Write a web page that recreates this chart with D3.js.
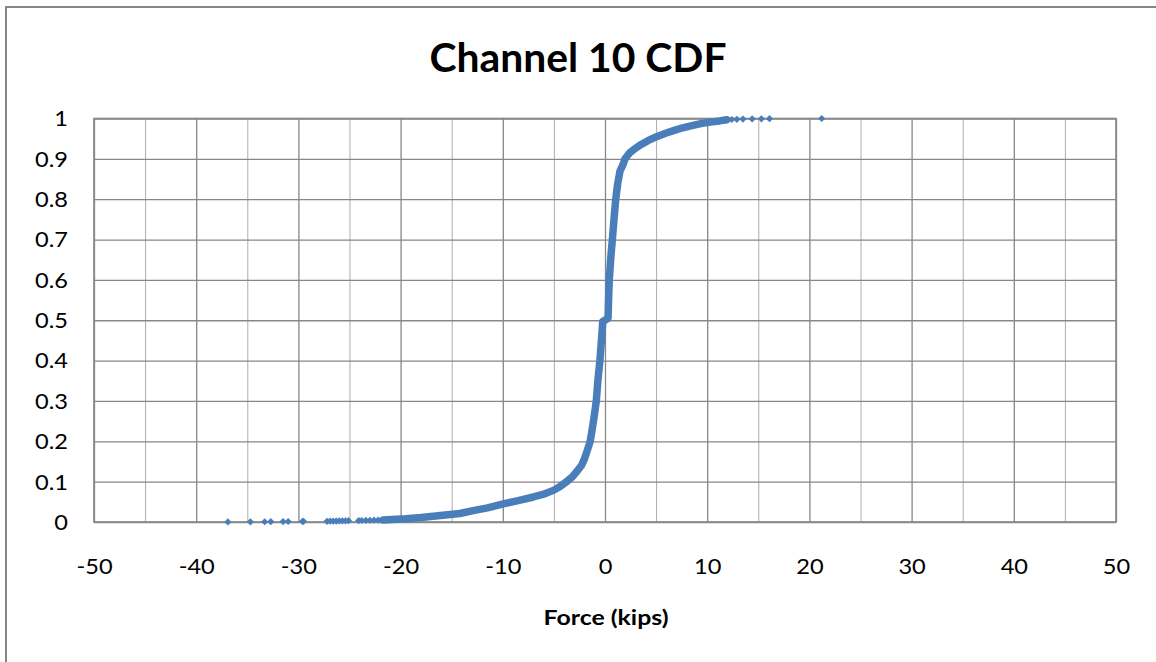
<!DOCTYPE html>
<html>
<head>
<meta charset="utf-8">
<script src="https://cdn.jsdelivr.net/npm/d3@7"></script>
<style>
  html, body { margin: 0; padding: 0; background: #fff; }
  svg { display: block; }
  text { font-family: Lato, "Open Sans", sans-serif; fill: #000; }
</style>
</head>
<body>
<svg id="chart" width="1156" height="662"></svg>
<script>
// ---- data ----
const chartTitle = "Channel 10 CDF";
const xAxisTitle = "Force (kips)";
const xTicks = [-50, -40, -30, -20, -10, 0, 10, 20, 30, 40, 50];
const xMinorTicks = [-45, -35, -25, -15, -5, 5, 15, 25, 35, 45];
const yTicks = [0, 0.1, 0.2, 0.3, 0.4, 0.5, 0.6, 0.7, 0.8, 0.9, 1];
const yTickLabels = ["0", "0.1", "0.2", "0.3", "0.4", "0.5", "0.6", "0.7", "0.8", "0.9", "1"];

// sparse left tail (individual markers)
const leftTailForce = [-36.9, -34.7, -33.3, -32.7, -31.5, -31.0, -29.6, -29.5,
  -27.2, -26.9, -26.6, -26.3, -26.0, -25.7, -25.4, -25.1,
  -24.1, -23.8, -23.4, -23.0, -22.6, -22.2];
const leftTailCdf = [0.0002, 0.0004, 0.0006, 0.0008, 0.001, 0.0012, 0.0014, 0.0016,
  0.0018, 0.002, 0.0022, 0.0024, 0.0026, 0.0028, 0.003, 0.0032,
  0.0035, 0.0037, 0.004, 0.0042, 0.0045, 0.0048];

// dense body of the distribution
const bodyForce = [-21.7, -19.5, -18.0, -16.1, -14.2, -12.9, -11.5, -9.95, -8.5, -7.0,
  -6.0, -5.0, -4.4, -3.75, -3.2, -2.7, -2.3, -2.0, -1.7, -1.45,
  -1.25, -1.07, -0.85, -0.7, -0.5, -0.35, -0.22, 0.3, 0.35, 0.42,
  0.55, 0.72, 0.88, 1.05, 1.25, 1.47, 1.75, 1.96, 2.38, 2.9,
  3.5, 4.2, 5.05, 6.0, 6.7, 7.6, 8.6, 9.5, 10.3, 11.2, 11.9];
const bodyCdf = [0.005, 0.008, 0.011, 0.016, 0.021, 0.028, 0.035, 0.045, 0.053, 0.062,
  0.069, 0.079, 0.088, 0.10, 0.112, 0.127, 0.14, 0.157, 0.18, 0.20,
  0.23, 0.26, 0.30, 0.35, 0.40, 0.45, 0.497, 0.505, 0.55, 0.60,
  0.65, 0.70, 0.75, 0.80, 0.84, 0.87, 0.885, 0.90, 0.914, 0.925,
  0.935, 0.945, 0.955, 0.964, 0.97, 0.977, 0.983, 0.988, 0.991, 0.994, 0.997];

// sparse right tail (individual markers)
const rightTailForce = [12.4, 12.9, 13.5, 14.4, 15.3, 16.1, 21.2];
const rightTailCdf = [0.9975, 0.998, 0.9985, 0.999, 0.9993, 0.9996, 1.0];

// ---- layout ----
const svg = d3.select("#chart");
const plot = { left: 94, right: 1116, top: 118.5, bottom: 522 };
const x = d3.scaleLinear().domain([-50, 50]).range([plot.left, plot.right]);
const y = d3.scaleLinear().domain([0, 1]).range([plot.bottom, plot.top]);
const blue = "#4a7ebb";
const gridMajor = "#878787";
const gridMinor = "#adadad";

// outer chart frame
svg.append("rect")
  .attr("x", 6).attr("y", 7).attr("width", 1200).attr("height", 700)
  .attr("fill", "none").attr("stroke", "#868686").attr("stroke-width", 2);

// title
svg.append("text")
  .attr("x", 578).attr("y", 72)
  .attr("text-anchor", "middle")
  .attr("font-weight", "bold")
  .attr("font-size", 40)
  .attr("textLength", 297).attr("lengthAdjust", "spacingAndGlyphs")
  .text(chartTitle);

// minor vertical gridlines
svg.append("g")
  .attr("transform", `translate(0,${plot.bottom})`)
  .call(d3.axisBottom(x).tickValues(xMinorTicks).tickSize(-(plot.bottom - plot.top)).tickFormat(""))
  .call(g => g.select(".domain").remove())
  .call(g => g.selectAll("line").attr("stroke", gridMinor).attr("stroke-width", 1));

// major vertical gridlines + x labels
const xAxis = svg.append("g")
  .attr("transform", `translate(0,${plot.bottom})`)
  .call(d3.axisBottom(x).tickValues(xTicks).tickSize(-(plot.bottom - plot.top)).tickPadding(0).tickFormat(d => String(d)))
  .call(g => g.select(".domain").remove())
  .call(g => g.selectAll("line").attr("stroke", gridMajor).attr("stroke-width", 1.3));
xAxis.selectAll("text")
  .attr("y", 51.5).attr("dy", null)
  .attr("font-size", 20.5).attr("font-family", "Lato, sans-serif").attr("fill", "#000");

// horizontal gridlines + y labels
const yAxis = svg.append("g")
  .attr("transform", `translate(${plot.left},0)`)
  .call(d3.axisLeft(y).tickValues(yTicks).tickSize(-(plot.right - plot.left)).tickPadding(0)
    .tickFormat((d, i) => yTickLabels[i]))
  .call(g => g.select(".domain").remove())
  .call(g => g.selectAll("line").attr("stroke", gridMajor).attr("stroke-width", 1.3));
yAxis.selectAll("text")
  .attr("x", 68 - plot.left).attr("dy", "0.36em")
  .attr("font-size", 20.5).attr("font-family", "Lato, sans-serif").attr("fill", "#000");

// stretch tick labels horizontally like the reference
svg.selectAll(".tick text").each(function () {
  const w = this.getComputedTextLength();
  d3.select(this).attr("textLength", w * 1.15).attr("lengthAdjust", "spacingAndGlyphs");
});

// plot border
svg.append("rect")
  .attr("x", plot.left).attr("y", plot.top)
  .attr("width", plot.right - plot.left).attr("height", plot.bottom - plot.top)
  .attr("fill", "none").attr("stroke", gridMajor).attr("stroke-width", 1.6);

// x axis title
svg.append("text")
  .attr("x", 606).attr("y", 625)
  .attr("text-anchor", "middle")
  .attr("font-weight", "bold")
  .attr("font-size", 21)
  .attr("textLength", 125).attr("lengthAdjust", "spacingAndGlyphs")
  .text(xAxisTitle);

// ---- series ----
const body = bodyForce.map((f, i) => ({ f, p: bodyCdf[i] }));
const tails = leftTailForce.map((f, i) => ({ f, p: leftTailCdf[i] }))
  .concat(rightTailForce.map((f, i) => ({ f, p: rightTailCdf[i] })));

svg.append("path")
  .datum(body)
  .attr("fill", "none")
  .attr("stroke", blue)
  .attr("stroke-width", 7.5)
  .attr("stroke-linejoin", "round")
  .attr("stroke-linecap", "round")
  .attr("d", d3.line().x(d => x(d.f)).y(d => y(d.p)));

const diamond = d3.symbol().type(d3.symbolSquare).size(26);
svg.append("g").selectAll("path")
  .data(tails)
  .join("path")
  .attr("d", diamond)
  .attr("fill", blue)
  .attr("transform", d => `translate(${x(d.f)},${y(d.p)}) rotate(45)`);
</script>
</body>
</html>
